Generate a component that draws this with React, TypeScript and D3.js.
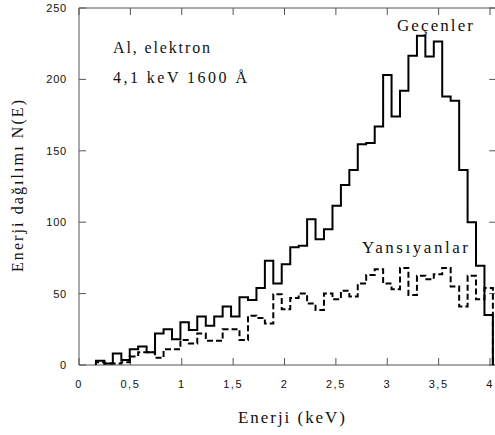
import React from "react";
import * as d3 from "d3";

// Histogram bin edges (keV)
const binEdges = [
  0.165, 0.247, 0.329, 0.412, 0.494, 0.576, 0.658, 0.74, 0.823, 0.905, 0.987,
  1.069, 1.151, 1.234, 1.316, 1.398, 1.48, 1.562, 1.645, 1.727, 1.809, 1.891,
  1.973, 2.056, 2.138, 2.22, 2.302, 2.384, 2.467, 2.549, 2.631, 2.713, 2.795,
  2.878, 2.96, 3.042, 3.124, 3.206, 3.289, 3.371, 3.453, 3.535, 3.617, 3.7,
  3.782, 3.864, 3.946, 4.028,
];

// Geçenler (transmitted) – solid
const gecenler = [
  3, 1, 8, 3.5, 11, 13, 9, 22, 25, 18, 30, 24.5, 34, 27.5, 34, 41, 34, 47.5,
  45.5, 54, 73, 57, 70.5, 82.5, 83.5, 102, 88, 95, 111.5, 126, 136.5, 154.5,
  155.5, 167, 203, 174, 192, 216.5, 230.5, 216, 226.5, 188, 185, 136.5, 100,
  69.5, 35,
];

// Yansıyanlar (reflected) – dashed
const yansiyanlar = [
  2, 1, 1, 2, 6, 9, 9, 5, 11, 11, 17.5, 15, 22, 17, 17, 25, 25, 17.5, 34.5, 33,
  29, 49.5, 39, 47, 50, 43, 38.5, 50, 46, 52, 48, 57, 63, 67, 57, 53, 68, 49,
  62.5, 60, 63.5, 68, 55, 41, 62.5, 46, 54,
];

const xTicks = [0, 0.5, 1, 1.5, 2, 2.5, 3, 3.5, 4];
const xTickLabels = ["0", "0,5", "1", "1,5", "2", "2,5", "3", "3,5", "4"];
const yTicks = [0, 50, 100, 150, 200, 250];

const W = 495;
const H = 435;

export default function App() {
  const x = d3.scaleLinear().domain([0, 4]).range([79, 490]);
  const y = d3.scaleLinear().domain([0, 250]).range([365, 8]);
  const xRight = x(4.06);

  const stepPath = (vals: number[]) => {
    const pts: [number, number][] = [[binEdges[0], 0]];
    vals.forEach((v, i) => pts.push([binEdges[i], v]));
    pts.push([binEdges[vals.length], vals[vals.length - 1]]);
    pts.push([binEdges[vals.length], 0]);
    return (
      d3
        .line<[number, number]>()
        .x((d) => x(d[0]))
        .y((d) => y(d[1]))
        .curve(d3.curveStepAfter)(pts) || ""
    );
  };

  const axisColor = "#555";
  const tickLen = 7;
  const serif = "'Liberation Serif', 'Times New Roman', serif";
  const sans = "'Liberation Sans', Arial, sans-serif";

  return (
    <svg
      width={W}
      height={H}
      style={{ position: "absolute", left: 0, top: 0, background: "#fff" }}
    >
      <rect x={0} y={0} width={W} height={H} fill="#fff" />
      {/* frame */}
      <g stroke={axisColor} strokeWidth={1} fill="none">
        <line x1={x(0)} y1={y(0)} x2={xRight} y2={y(0)} />
        <line x1={x(0)} y1={y(250)} x2={xRight} y2={y(250)} />
        <line x1={x(0)} y1={y(0)} x2={x(0)} y2={y(250)} />
        <line x1={xRight} y1={y(0)} x2={xRight} y2={y(250)} />
        {xTicks.map((t) => (
          <g key={"xt" + t}>
            <line x1={x(t)} x2={x(t)} y1={y(0)} y2={y(0) - tickLen} />
            <line x1={x(t)} x2={x(t)} y1={y(250)} y2={y(250) + tickLen} />
          </g>
        ))}
        {yTicks.map((t) => (
          <g key={"yt" + t}>
            <line x1={x(0)} x2={x(0) + tickLen} y1={y(t)} y2={y(t)} />
            <line x1={xRight} x2={xRight - tickLen} y1={y(t)} y2={y(t)} />
          </g>
        ))}
      </g>
      {/* tick labels */}
      <g fontFamily={sans} fontSize={11} fill="#111">
        {xTicks.map((t, i) => (
          <text
            key={"xl" + t}
            x={x(t)}
            y={388}
            textAnchor="middle"
            letterSpacing={1.5}
          >
            {xTickLabels[i]}
          </text>
        ))}
        {yTicks.map((t) => (
          <text
            key={"yl" + t}
            x={67}
            y={y(t) + 4}
            textAnchor="end"
            letterSpacing={0.8}
          >
            {t}
          </text>
        ))}
      </g>
      {/* series */}
      <path
        d={stepPath(yansiyanlar)}
        fill="none"
        stroke="#000"
        strokeWidth={2}
        strokeDasharray="6,3"
      />
      <path d={stepPath(gecenler)} fill="none" stroke="#000" strokeWidth={2} />
      {/* texts */}
      <g fontFamily={serif} fill="#111">
        <text x={397} y={31} fontSize={17} textLength={76} lengthAdjust="spacing">
          Geçenler
        </text>
        <text x={362} y={253} fontSize={17} textLength={106} lengthAdjust="spacing">
          Yansıyanlar
        </text>
        <text x={113} y={53} fontSize={16} textLength={97} lengthAdjust="spacing">
          Al, elektron
        </text>
        <text x={113} y={83} fontSize={16} textLength={134} lengthAdjust="spacing">
          4,1 keV 1600 Å
        </text>
        <text
          x={238}
          y={423}
          fontSize={17}
          textLength={107}
          lengthAdjust="spacing"
        >
          Enerji (keV)
        </text>
        <text
          transform="translate(23,272) rotate(-90)"
          x={0}
          y={0}
          fontSize={16}
          textLength={172}
          lengthAdjust="spacing"
        >
          Enerji dağılımı N(E)
        </text>
      </g>
    </svg>
  );
}
